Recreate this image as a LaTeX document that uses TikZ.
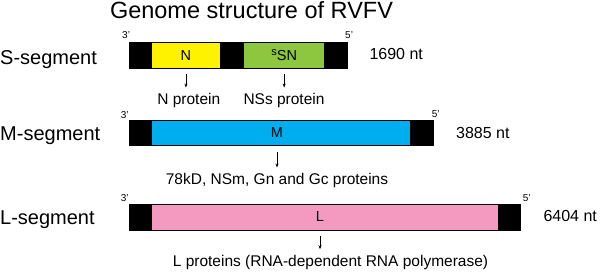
\documentclass[tikz,border=0pt]{standalone}
\usepackage{fontspec}
\setmainfont{Liberation Sans}
\usepackage{xcolor}
\definecolor{nyellow}{RGB}{255,242,0}
\definecolor{sgreen}{RGB}{141,198,63}
\definecolor{mblue}{RGB}{0,174,239}
\definecolor{lpink}{RGB}{244,154,193}
\usetikzlibrary{arrows.meta,positioning,calc}

\begin{document}
\begin{tikzpicture}[x=1pt,y=-1pt,
  capbox/.style={rectangle,draw,fill=black,minimum width=22pt,minimum height=25.4pt,inner sep=0pt},
  genebox/.style={rectangle,draw,line width=0.6pt,minimum height=25.4pt,inner sep=0pt},
  glab/.style={inner sep=0pt,font=\fontsize{14.5}{16}\selectfont},
  seglab/.style={anchor=base west,inner sep=0pt,font=\fontsize{20}{24}\selectfont},
  ntlab/.style={anchor=base west,inner sep=0pt,font=\fontsize{16}{18}\selectfont},
  endlab/.style={anchor=base west,inner sep=0pt,font=\fontsize{10}{12}\selectfont},
  plab/.style={anchor=base,inner sep=0pt,font=\fontsize{15.5}{18}\selectfont},
  prot/.style={-{Stealth[length=4pt,width=3pt]},line width=0.7pt,shorten <=6pt,shorten >=6pt}
]
  \useasboundingbox (0,0) rectangle (600,272);
  \node[anchor=base,inner sep=0pt,font=\fontsize{23.5}{28}\selectfont] (title) at (251.5,18.3) {Genome structure of RVFV};

  % S segment
  \node[seglab] (sS) at (0,64.3) {S-segment};
  \node[capbox,anchor=north west] (cS1) at (128.5,42.3) {};
  \node[genebox,fill=nyellow,minimum width=69.5pt,right=0pt of cS1] (gN) {};
  \node[capbox,right=0pt of gN] (cS2) {};
  \node[genebox,fill=sgreen,minimum width=81pt,right=0pt of cS2] (gNSs) {};
  \node[capbox,right=0pt of gNSs] (cS3) {};
  \node[glab] (tN) at (gN) {N};
  \node[glab] (tNSs) at (gNSs) {\raisebox{5.5pt}{\fontsize{11}{12}\selectfont s}SN};
  \node[endlab] (s3) at (122,39) {3’};
  \node[endlab] (s5) at (345,38.3) {5’};
  \node[ntlab] (ntS) at (369.3,59.3) {1690 nt};
  \node[plab] (pN) at (188.8,105) {N protein};
  \node[plab] (pNSs) at (284,105) {NSs protein};

  % M segment
  \node[seglab] (sM) at (0,141) {M-segment};
  \node[capbox,anchor=north west] (cM1) at (128.5,120) {};
  \node[genebox,fill=mblue,minimum width=259.5pt,right=0pt of cM1] (gM) {};
  \node[capbox,right=0pt of gM] (cM2) {};
  \node[glab] (tM) at (277,132.7) {M};
  \node[endlab] (m3) at (120.7,118.3) {3’};
  \node[endlab] (m5) at (431.7,117.7) {5’};
  \node[ntlab] (ntM) at (456,138.3) {3885 nt};
  \node[plab] (pM) at (277,185) {78kD, NSm, Gn and Gc proteins};

  % L segment
  \node[seglab] (sL) at (0,225) {L-segment};
  \node[capbox,anchor=north west] (cL1) at (128.5,204.3) {};
  \node[genebox,fill=lpink,minimum width=347.5pt,right=0pt of cL1] (gL) {};
  \node[capbox,minimum width=21pt,right=0pt of gL] (cL2) {};
  \node[glab] (tL) at (320,217) {L};
  \node[endlab] (l3) at (120.7,201.7) {3’};
  \node[endlab] (l5) at (522.7,201.7) {5’};
  \node[ntlab] (ntL) at (543.3,221.7) {6404 nt};
  \node[plab] (pL) at (330.5,266.7) {L proteins (RNA-dependent RNA polymerase)};

  % Arrows
  \draw[prot] (tN |- gN.south) -- (tN |- pN.north);
  \draw[prot] (tNSs |- gNSs.south) -- (tNSs |- pNSs.north);
  \draw[prot] (tM |- gM.south) -- (tM |- pM.north);
  \draw[prot] (tL |- gL.south) -- (tL |- pL.north);
\end{tikzpicture}
\end{document}
